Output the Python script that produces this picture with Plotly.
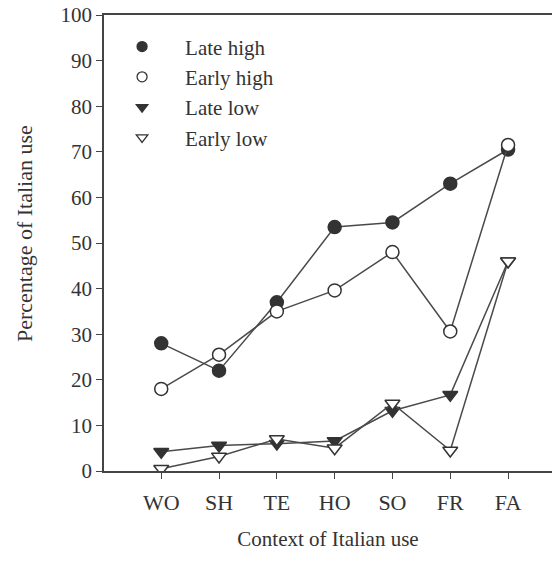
import plotly.graph_objects as go

categories = ["WO", "SH", "TE", "HO", "SO", "FR", "FA"]
late_high = [28.0, 22.0, 37.0, 53.5, 54.5, 63.0, 70.5]
early_high = [18.0, 25.5, 35.0, 39.6, 48.0, 30.6, 71.5]
late_low = [4.2, 5.6, 6.0, 6.6, 13.2, 16.7, 46.0]
early_low = [0.5, 3.2, 7.0, 5.0, 14.8, 4.5, 46.0]
series_names = ["Late high", "Early high", "Late low", "Early low"]
series_values = [late_high, early_high, late_low, early_low]
series_symbols = ["circle", "circle-open", "triangle-down", "triangle-down-open"]

ink = "#333333"
line_col = "#4a4a4a"
font_fam = "Liberation Serif, Times New Roman, serif"

fig = go.Figure()
for name, vals, sym in zip(series_names, series_values, series_symbols):
    open_ = sym.endswith("open")
    base = sym.replace("-open", "")
    fig.add_trace(go.Scatter(
        x=categories, y=vals, name=name, mode="lines+markers", showlegend=False,
        line=dict(color=line_col, width=1.5),
        marker=dict(symbol=base, size=13,
                    color="white" if open_ else ink,
                    line=dict(color=ink, width=1.5)),
    ))
# legend entries (markers only, as in the reference key)
for name, sym in zip(series_names, series_symbols):
    open_ = sym.endswith("open")
    base = sym.replace("-open", "")
    fig.add_trace(go.Scatter(
        x=[None], y=[None], name=name, mode="markers", showlegend=True,
        marker=dict(symbol=base, size=10,
                    color="white" if open_ else ink,
                    line=dict(color=ink, width=1.3)),
    ))

fig.update_layout(
    width=552, height=563,
    margin=dict(l=104, r=0, t=15, b=92),
    paper_bgcolor="white", plot_bgcolor="white",
    font=dict(family=font_fam, size=21, color=ink),
    showlegend=True,
    legend=dict(x=-0.011, y=0.975, xanchor="left", yanchor="top",
                bgcolor="rgba(0,0,0,0)", font=dict(size=21, color=ink),
                tracegroupgap=0, itemwidth=76),
    xaxis=dict(
        type="category", range=[-0.99, 6.76],
        showline=True, linecolor="#444444", linewidth=1.5, mirror=True,
        ticks="outside", ticklen=6, tickwidth=1.2, tickcolor="#444444",
        showgrid=False, zeroline=False,
        tickfont=dict(size=22), ticklabelstandoff=5,
        title=dict(text="Context of Italian use", font=dict(size=21), standoff=17),
    ),
    yaxis=dict(
        range=[0, 100], tickvals=list(range(0, 101, 10)),
        showline=True, linecolor="#444444", linewidth=1.5,
        ticks="outside", ticklen=6, tickwidth=1.2, tickcolor="#444444",
        showgrid=False, zeroline=False,
        tickfont=dict(size=21),
    ),
    annotations=[dict(
        text="Percentage of Italian use", textangle=-90,
        xref="paper", yref="paper", x=-0.176, y=0.52,
        xanchor="center", yanchor="middle", showarrow=False,
        font=dict(size=22, color=ink),
    )],
)

fig.write_html("out.html")
